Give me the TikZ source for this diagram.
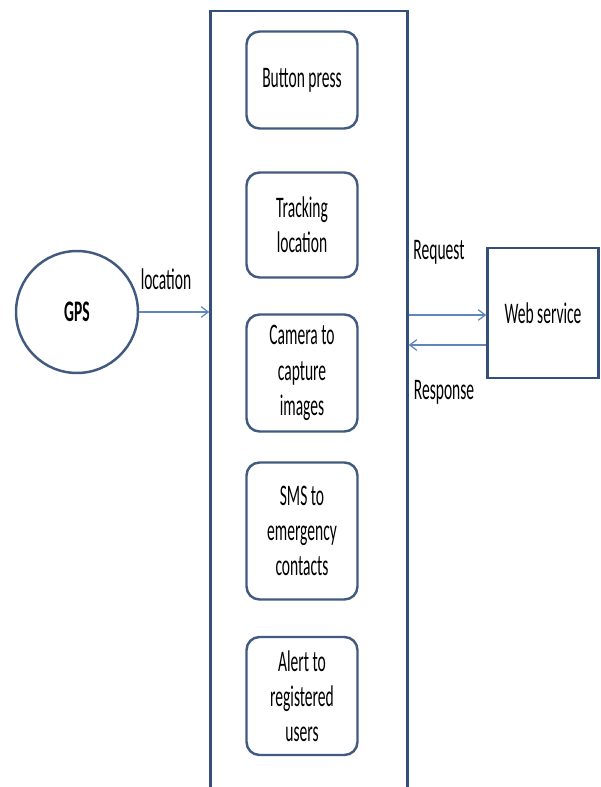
\documentclass[tikz,border=0pt]{standalone}
\usepackage{fontspec}
\newfontfamily\diagfont[FakeStretch=0.52]{Carlito}
\usetikzlibrary{positioning, arrows.meta}
\definecolor{boxline}{RGB}{66,90,128}
\definecolor{mainline}{RGB}{52,80,122}
\definecolor{arrowline}{RGB}{95,135,190}

\begin{document}
\begin{tikzpicture}[x=0.02cm, y=-0.02cm,
    task/.style={draw=boxline, line width=1.4pt, rounded corners=0.26cm, minimum width=2.22cm, align=center, inner sep=1pt, font={\diagfont\fontsize{17}{20}\selectfont}},
    flow/.style={draw=arrowline, line width=0.7pt, -{Straight Barb[length=4pt, width=6pt]}}]

    \useasboundingbox (0,0) rectangle (601,787);
    \clip (0,0) rectangle (601,787);

    % Application frame (runs past the lower edge)
    \node[draw=mainline, line width=1.4pt, minimum width=3.94cm, minimum height=15.8cm, inner sep=0pt] (app) at (309,406) {};

    % Tasks inside the application
    \node[task, minimum height=1.94cm] (press) at (302,80) {Button press};
    \node[task, minimum height=2.1cm] (track) at (302,225) {Tracking\\location};
    \node[task, minimum height=2.34cm] (camera) at (302,373) {Camera to\\capture\\images};
    \node[task, minimum height=2.74cm] (sms) at (302,531) {SMS to\\emergency\\contacts};
    \node[task, minimum height=2.36cm] (alert) at (302,696) {Alert to\\registered\\users};

    % GPS source
    \node[circle, draw=boxline, line width=1.4pt, minimum size=2.44cm, font={\diagfont\bfseries\fontsize{17}{20}\selectfont}] (gps) at (77,312) {GPS};

    % Web service
    \node[draw=mainline, line width=1.4pt, minimum width=2.22cm, minimum height=2.6cm, font={\diagfont\fontsize{17}{20}\selectfont}] (web) at (543,313) {Web service};

    % Connections
    \draw[flow] (gps.east) -- (gps.east -| app.west);
    \draw[flow] ([yshift=-0.04cm]web.west -| app.east) -- ([yshift=-0.04cm]web.west);
    \draw[flow] ([yshift=-0.64cm]web.west) -- ([yshift=-0.64cm]web.west -| app.east);

    % Labels
    \node[font={\diagfont\fontsize{17}{20}\selectfont}] (loclabel) at (166,279) {location};
    \node[font={\diagfont\fontsize{17}{20}\selectfont}] (reqlabel) at (439,252) {Request};
    \node[font={\diagfont\fontsize{17}{20}\selectfont}] (reslabel) at (444,392) {Response};

\end{tikzpicture}
\end{document}
